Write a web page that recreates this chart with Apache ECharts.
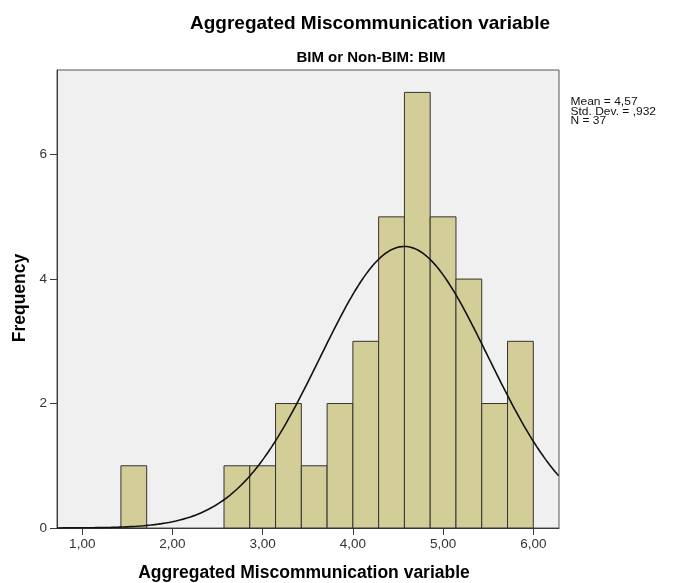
<!DOCTYPE html>
<html>
<head>
<meta charset="utf-8">
<title>Aggregated Miscommunication variable</title>
<script src="https://cdn.jsdelivr.net/npm/echarts@6/dist/echarts.min.js"></script>
<style>
  html, body { margin: 0; padding: 0; background: #ffffff; }
  #chart { width: 675px; height: 583px; }
</style>
</head>
<body>
<div id="chart"></div>
<script>
// Histogram bins (lower and upper edges) and their frequencies
const binLow  = [1.4286, 2.5714, 2.8571, 3.1429, 3.4286, 3.7143, 4.0000, 4.2857, 4.5714, 4.8571, 5.1429, 5.4286, 5.7143];
const binHigh = [1.7143, 2.8571, 3.1429, 3.4286, 3.7143, 4.0000, 4.2857, 4.5714, 4.8571, 5.1429, 5.4286, 5.7143, 6.0000];
const counts  = [1, 1, 1, 2, 1, 2, 3, 5, 7, 5, 4, 2, 3];

// Summary statistics shown beside the plot
const MEAN = 4.57;
const STD_DEV = 0.932;
const N = 37;

// Axis ticks
const xTicks = [1, 2, 3, 4, 5, 6];
const yTicks = [0, 2, 4, 6];

const FONT = '"Liberation Sans", Arial, Helvetica, sans-serif';

// Fitted normal curve scaled to the histogram (N * bin width * density)
const binWidth = binHigh[0] - binLow[0];
const curve = [];
for (let x = 0.72; x <= 6.2851; x += 0.02) {
  const z = (x - MEAN) / STD_DEV;
  const dens = Math.exp(-0.5 * z * z) / (STD_DEV * Math.sqrt(2 * Math.PI));
  curve.push([x, N * binWidth * dens]);
}

const bars = counts.map((c, i) => [binLow[i], binHigh[i], c]);

const comma = (v, d) => v.toFixed(d).replace('.', ',');

// Small statistics block to the right of the plot
function statLine(text, y) {
  return {
    type: 'text', x: 570.5, y: y, scaleY: 0.86,
    style: { text: text, fill: '#111', font: '12px ' + FONT, textAlign: 'left', textVerticalAlign: 'middle' }
  };
}

const chart = echarts.init(document.getElementById('chart'), null, { renderer: 'canvas' });

chart.setOption({
  animation: false,
  backgroundColor: '#ffffff',
  grid: {
    left: 57, top: 70, width: 502, height: 458,
    show: true,
    backgroundColor: '#f0f0f0',
    borderColor: '#555555',
    borderWidth: 1
  },
  xAxis: {
    type: 'value',
    min: 0.72, max: 6.285,
    splitLine: { show: false },
    axisLine: { show: true, onZero: false, lineStyle: { color: '#3a3a3a', width: 1 } },
    axisTick: { show: true, length: 7, customValues: xTicks, lineStyle: { color: '#3a3a3a' } },
    axisLabel: {
      customValues: xTicks,
      margin: 9,
      color: '#333333',
      fontFamily: FONT, fontSize: 13.5,
      formatter: v => comma(v, 2)
    }
  },
  yAxis: {
    type: 'value',
    min: 0, max: 7.36,
    splitLine: { show: false },
    axisLine: { show: true, lineStyle: { color: '#3a3a3a', width: 1 } },
    axisTick: { show: true, length: 7, customValues: yTicks, lineStyle: { color: '#3a3a3a' } },
    axisLabel: {
      customValues: yTicks,
      margin: 10,
      color: '#333333',
      fontFamily: FONT, fontSize: 13.5,
      formatter: v => String(Math.round(v))
    }
  },
  series: [
    {
      type: 'custom',
      data: bars,
      encode: { x: [0, 1], y: 2 },
      renderItem: function (params, api) {
        const p0 = api.coord([api.value(0), api.value(2)]);
        const p1 = api.coord([api.value(1), 0]);
        return {
          type: 'rect',
          shape: { x: p0[0], y: p0[1], width: p1[0] - p0[0], height: p1[1] - p0[1] },
          style: { fill: '#d3ce97', stroke: '#333333', lineWidth: 1 }
        };
      },
      z: 2
    },
    {
      type: 'line',
      data: curve,
      showSymbol: false,
      smooth: false,
      clip: true,
      lineStyle: { color: '#111111', width: 1.6 },
      z: 3
    }
  ],
  graphic: [
    {
      type: 'text', x: 370, y: 24,
      style: { text: 'Aggregated Miscommunication variable', fill: '#000', font: 'bold 19px ' + FONT, textAlign: 'center', textVerticalAlign: 'middle' }
    },
    {
      type: 'text', x: 371, y: 57.5,
      style: { text: 'BIM or Non-BIM: BIM', fill: '#000', font: 'bold 15px ' + FONT, textAlign: 'center', textVerticalAlign: 'middle' }
    },
    {
      type: 'text', x: 304, y: 573,
      style: { text: 'Aggregated Miscommunication variable', fill: '#000', font: 'bold 17.5px ' + FONT, textAlign: 'center', textVerticalAlign: 'middle' }
    },
    {
      type: 'text', x: 20, y: 298, rotation: Math.PI / 2,
      style: { text: 'Frequency', fill: '#000', font: 'bold 17.5px ' + FONT, textAlign: 'center', textVerticalAlign: 'middle' }
    },
    statLine('Mean = ' + comma(MEAN, 2), 102),
    statLine('Std. Dev. = ' + comma(STD_DEV, 3).replace(/^0/, ''), 112),
    statLine('N = ' + N, 121.5)
  ]
});
</script>
</body>
</html>
